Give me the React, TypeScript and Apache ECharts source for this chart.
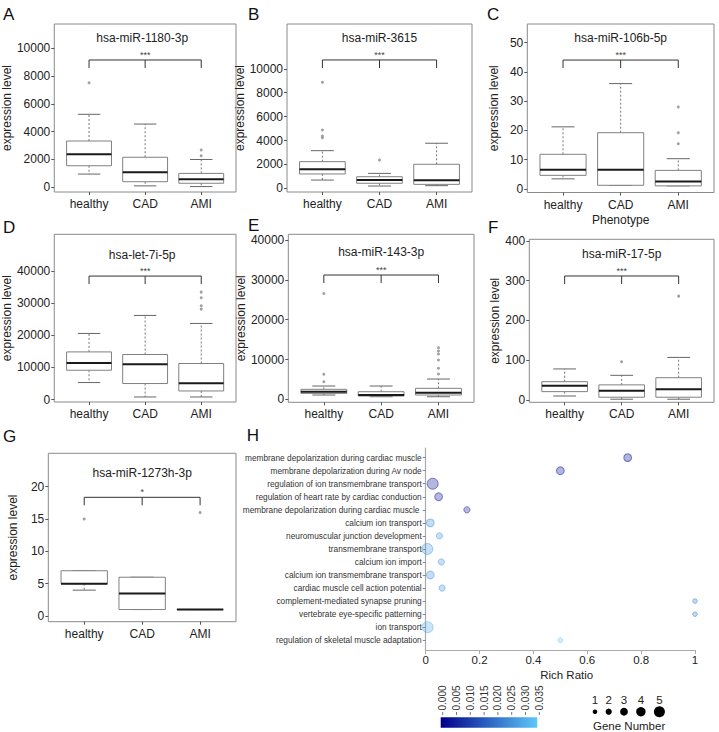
import React, { useEffect, useRef } from 'react';
import * as echarts from 'echarts';

const FONT = '"Liberation Sans", Arial, Helvetica, sans-serif';

const CATEGORIES = ['healthy', 'CAD', 'AMI'];
const TITLES = ['hsa-miR-1180-3p', 'hsa-miR-3615', 'hsa-miR-106b-5p', 'hsa-let-7i-5p', 'hsa-miR-143-3p', 'hsa-miR-17-5p', 'hsa-miR-1273h-3p'];
const LETTERS = ['A', 'B', 'C', 'D', 'E', 'F', 'G'];

// [min, Q1, median, Q3, max] for healthy, CAD, AMI
const BOX_A = [[950, 1550, 2370, 3330, 5250], [100, 400, 1080, 2160, 4550], [50, 290, 575, 1000, 2000]];
const OUT_A = [[0, 7525], [2, 2270], [2, 2680]];
const BOX_B = [[690, 1200, 1590, 2230, 3150], [190, 420, 700, 970, 1250], [220, 330, 670, 2010, 3770]];
const OUT_B = [[0, 4230], [0, 4380], [0, 4880], [0, 8870], [1, 2370]];
const BOX_C = [[3.4, 4.6, 6.5, 11.8, 21.2], [1.2, 1.2, 6.5, 19.2, 36], [1.0, 1.0, 2.5, 6.3, 10.3]];
const OUT_C = [[2, 15.4], [2, 19.2], [2, 28]];
const BOX_D = [[5290, 9110, 11380, 14800, 20530], [810, 4980, 10980, 14000, 26130], [810, 2680, 5070, 11200, 23640]];
const OUT_D = [[2, 28090], [2, 29120], [2, 31600], [2, 33370]];
const BOX_E = [[1080, 1500, 1910, 2510, 3340], [650, 830, 1080, 1910, 3340], [650, 1080, 1670, 2760, 5100]];
const OUT_E = [[0, 4400], [0, 6300], [0, 26600], [2, 6360], [2, 7790], [2, 9870], [2, 11380], [2, 12130], [2, 12960]];
const BOX_F = [[10, 21, 36, 46, 78], [2, 7, 23, 38, 62], [2, 7, 27, 56, 107]];
const OUT_F = [[1, 96], [2, 261]];
const BOX_G = [[4, 5, 5, 7, 7], [1, 1, 3.5, 6, 6], [1, 1, 1, 1, 1]];
const OUT_G = [[0, 15], [2, 16]];

const TICKS_A = [0, 2000, 4000, 6000, 8000, 10000];
const TICKS_B = [0, 2000, 4000, 6000, 8000, 10000];
const TICKS_C = [0, 10, 20, 30, 40, 50];
const TICKS_D = [0, 10000, 20000, 30000, 40000];
const TICKS_E = [0, 10000, 20000, 30000, 40000];
const TICKS_F = [0, 100, 200, 300, 400];
const TICKS_G = [0, 5, 10, 15, 20];

const Y_RANGES = [[-340, 11750], [-310, 13750], [-1.27, 56.4], [-750, 51320], [-750, 41460], [-5.8, 403.8], [-0.88, 25.17]];
const SIG_Y = [9160, 10740, 44.06, 38350, 31230, 311.6, 18.36];
const SIG_LABELS = ['***', '***', '***', '***', '***', '***', '*'];

// Panel H
const GO_TERMS = [
  'membrane depolarization during cardiac muscle',
  'membrane depolarization during Av node',
  'regulation of ion transmembrane transport',
  'regulation of heart rate by cardiac conduction',
  'membrane depolarization during cardiac muscle ',
  'calcium ion transport',
  'neuromuscular junction development',
  'transmembrane transport',
  'calcium ion import',
  'calcium ion transmembrane transport',
  'cardiac muscle cell action potential',
  'complement-mediated synapse pruning',
  'vertebrate eye-specific patterning',
  'ion transport',
  'regulation of skeletal muscle adaptation',
];
const RICH_RATIO = [0.75, 0.5, 0.026, 0.048, 0.153, 0.017, 0.051, 0.006, 0.058, 0.017, 0.061, 1, 1, 0.007, 0.5];
const GENE_NUMBER = [3, 3, 5, 3, 2, 3, 2, 5, 2, 3, 2, 1, 1, 5, 1];
const P_VALUE = [0.002, 0.002, 0.003, 0.003, 0.004, 0.025, 0.026, 0.027, 0.026, 0.025, 0.026, 0.022, 0.022, 0.031, 0.035];
const RICH_TICKS = [0, 0.2, 0.4, 0.6, 0.8, 1];
const PVALUE_TICKS = [0, 0.005, 0.01, 0.015, 0.02, 0.025, 0.03, 0.035];
const GENE_LEGEND = [1, 2, 3, 4, 5];

const P_MAX = 0.035;
const C0 = [0, 0, 139];
const C1 = [92, 200, 250];
function pColor(p: number, a: number) {
  const t = Math.max(0, Math.min(1, p / P_MAX));
  const c = C0.map((v, i) => Math.round(v + (C1[i] - v) * t));
  return `rgba(${c[0]},${c[1]},${c[2]},${a})`;
}
const geneSize = (n: number) => 3 + 1.6 * n;

const LAYOUT = [
  { left: 48.3, top: 24, width: 187.7, height: 168, nameGap: 36, titleDy: 14, lx: 3, ly: 14 },
  { left: 287, top: 24, width: 185, height: 168, nameGap: 38, titleDy: 14, lx: 248, ly: 14 },
  { left: 527.3, top: 24, width: 186.7, height: 168.5, nameGap: 27, titleDy: 14, lx: 487, ly: 14 },
  { left: 48.3, top: 234.3, width: 187.7, height: 167.7, nameGap: 37, titleDy: 21, lx: 3, ly: 227.5 },
  { left: 288.3, top: 234.3, width: 185.7, height: 168, nameGap: 37, titleDy: 18, lx: 248, ly: 225 },
  { left: 529.3, top: 239.3, width: 184.7, height: 163, nameGap: 25, titleDy: 15, lx: 488, ly: 227.5 },
  { left: 48.3, top: 453.3, width: 187.7, height: 168.4, nameGap: 29, titleDy: 20, lx: 3, ly: 436.5 },
];
const H_GRID = { left: 425.7, top: 448, width: 269.3, height: 202 };

const PANELS = [
  { box: BOX_A, out: OUT_A, ticks: TICKS_A },
  { box: BOX_B, out: OUT_B, ticks: TICKS_B },
  { box: BOX_C, out: OUT_C, ticks: TICKS_C },
  { box: BOX_D, out: OUT_D, ticks: TICKS_D },
  { box: BOX_E, out: OUT_E, ticks: TICKS_E },
  { box: BOX_F, out: OUT_F, ticks: TICKS_F },
  { box: BOX_G, out: OUT_G, ticks: TICKS_G },
];

function buildOption() {
  const grid: any[] = [];
  const xAxis: any[] = [];
  const yAxis: any[] = [];
  const series: any[] = [];
  const graphic: any[] = [];

  PANELS.forEach((p, i) => {
    const L = LAYOUT[i];
    grid.push({ left: L.left, top: L.top, width: L.width, height: L.height, show: true, borderColor: '#8a8a8a', borderWidth: 1, backgroundColor: 'transparent' });
    xAxis.push({
      gridIndex: i, type: 'value', min: 0.38, max: 3.62,
      axisLine: { show: false, onZero: false }, splitLine: { show: false },
      axisTick: { show: true, customValues: [1, 2, 3], length: 3, lineStyle: { color: '#555' } },
      axisLabel: { customValues: [1, 2, 3], formatter: (v: number) => CATEGORIES[Math.round(v) - 1], fontSize: 12, color: '#222', margin: 6, fontFamily: FONT },
      name: i === 2 ? 'Phenotype' : '', nameLocation: 'middle', nameGap: 21,
      nameTextStyle: { fontSize: 12, color: '#222', fontFamily: FONT },
    });
    yAxis.push({
      gridIndex: i, type: 'value', min: Y_RANGES[i][0], max: Y_RANGES[i][1],
      axisLine: { show: false, onZero: false }, splitLine: { show: false },
      axisTick: { show: true, customValues: p.ticks, length: 3, lineStyle: { color: '#555' } },
      axisLabel: { customValues: p.ticks, formatter: (v: number) => String(Math.round(v)), fontSize: 12, color: '#222', margin: 4, fontFamily: FONT },
      name: 'expression level', nameLocation: 'middle', nameGap: L.nameGap,
      nameTextStyle: { fontSize: 12, color: '#222', fontFamily: FONT },
    });
    series.push({
      type: 'custom', xAxisIndex: i, yAxisIndex: i,
      data: p.box.map((b, k) => [k + 1, ...b]),
      encode: { x: 0, y: [1, 2, 3, 4, 5] },
      renderItem: (params: any, api: any) => {
        const x = api.value(0);
        const lo = api.coord([x, api.value(1)]);
        const q1 = api.coord([x, api.value(2)]);
        const md = api.coord([x, api.value(3)]);
        const q3 = api.coord([x, api.value(4)]);
        const hi = api.coord([x, api.value(5)]);
        const w = api.size([0.8, 0])[0];
        const cx = lo[0];
        const dash = { stroke: '#777', lineWidth: 1, lineDash: [2, 2] };
        const solid = { stroke: '#666', lineWidth: 1 };
        return {
          type: 'group',
          children: [
            { type: 'line', shape: { x1: cx, y1: q3[1], x2: cx, y2: hi[1] }, style: dash },
            { type: 'line', shape: { x1: cx, y1: q1[1], x2: cx, y2: lo[1] }, style: dash },
            { type: 'line', shape: { x1: cx - w / 4, y1: hi[1], x2: cx + w / 4, y2: hi[1] }, style: solid },
            { type: 'line', shape: { x1: cx - w / 4, y1: lo[1], x2: cx + w / 4, y2: lo[1] }, style: solid },
            { type: 'rect', shape: { x: cx - w / 2, y: q3[1], width: w, height: q1[1] - q3[1] }, style: { fill: '#fff', stroke: '#808080', lineWidth: 1 } },
            { type: 'line', shape: { x1: cx - w / 2, y1: md[1], x2: cx + w / 2, y2: md[1] }, style: { stroke: '#1a1a1a', lineWidth: 2 } },
          ],
        };
      },
    });
    series.push({
      type: 'scatter', xAxisIndex: i, yAxisIndex: i, symbol: 'circle', symbolSize: 3,
      itemStyle: { color: '#8a8a8a' }, z: 3,
      data: p.out.map(([c, v]) => [c + 1, v]),
    });
    const sigLabel = SIG_LABELS[i];
    series.push({
      type: 'custom', xAxisIndex: i, yAxisIndex: i,
      data: [[2, SIG_Y[i]]],
      renderItem: (params: any, api: any) => {
        const y = api.value(1);
        const a = api.coord([1, y]);
        const b = api.coord([2, y]);
        const c = api.coord([3, y]);
        const leg = 8;
        return {
          type: 'group',
          children: [
            { type: 'polyline', shape: { points: [[a[0], a[1] + leg], [a[0], a[1]], [c[0], c[1]], [c[0], c[1] + leg]] }, style: { stroke: '#333', fill: null, lineWidth: 1 } },
            { type: 'line', shape: { x1: b[0], y1: b[1], x2: b[0], y2: b[1] + leg }, style: { stroke: '#333', lineWidth: 1 } },
            { type: 'text', x: b[0], y: b[1] - 5, style: { text: sigLabel, align: 'center', verticalAlign: 'middle', fontSize: 9, fill: '#444', fontFamily: FONT } },
          ],
        };
      },
    });
    graphic.push({ type: 'text', x: L.left + L.width / 2, y: L.top + L.titleDy, style: { text: TITLES[i], align: 'center', verticalAlign: 'middle', fontSize: 12, fill: '#222', fontFamily: FONT } });
    graphic.push({ type: 'text', x: L.lx, y: L.ly, style: { text: LETTERS[i], align: 'left', verticalAlign: 'middle', fontSize: 17, fill: '#111', fontFamily: FONT } });
  });

  // Panel H
  const hi = PANELS.length;
  grid.push({ ...H_GRID, show: false });
  xAxis.push({
    gridIndex: hi, type: 'value', min: 0, max: 1, interval: 0.2, position: 'bottom',
    axisLine: { show: true, onZero: false, lineStyle: { color: '#aaa', width: 1.2 } },
    axisTick: { show: true, length: 4, lineStyle: { color: '#aaa' } },
    splitLine: { show: false },
    axisLabel: { fontSize: 11.5, color: '#222', margin: 4, fontFamily: FONT, formatter: (v: number) => String(Number(v.toFixed(1))) },
  });
  const idx = GO_TERMS.map((_, k) => k);
  yAxis.push({
    gridIndex: hi, type: 'value', inverse: true, min: -0.74, max: 14.75, position: 'left',
    axisLine: { show: true, onZero: false, lineStyle: { color: '#aaa', width: 1.2 } },
    axisTick: { show: true, customValues: idx, length: 3, lineStyle: { color: '#888' } },
    splitLine: { show: false },
    axisLabel: { customValues: idx, formatter: (v: number) => GO_TERMS[Math.round(v)], fontSize: 8.3, color: '#333', margin: 4, fontFamily: FONT },
  });
  series.push({
    type: 'scatter', xAxisIndex: hi, yAxisIndex: hi, symbol: 'circle', clip: false,
    data: GO_TERMS.map((_, k) => ({
      value: [RICH_RATIO[k], k],
      symbolSize: geneSize(GENE_NUMBER[k]),
      itemStyle: { color: pColor(P_VALUE[k], 0.38), borderColor: pColor(P_VALUE[k], 0.6), borderWidth: 1 },
    })),
  });
  graphic.push({ type: 'text', x: 566.7, y: 675, style: { text: 'Rich Ratio', align: 'center', verticalAlign: 'middle', fontSize: 11.5, fill: '#222', fontFamily: FONT } });
  graphic.push({ type: 'text', x: 246.7, y: 435.5, style: { text: 'H', align: 'left', verticalAlign: 'middle', fontSize: 17, fill: '#111', fontFamily: FONT } });

  // colour bar
  const barX = 440.7, barY = 717.3, barW = 96.6, barH = 10.4;
  graphic.push({
    type: 'rect', shape: { x: barX, y: barY, width: barW, height: barH },
    style: { fill: new echarts.graphic.LinearGradient(0, 0, 1, 0, [
      { offset: 0, color: pColor(0, 1) }, { offset: 1, color: pColor(P_MAX, 1) },
    ]) },
  });
  PVALUE_TICKS.forEach((v) => {
    const x = barX + 2 + (v / P_MAX) * barW;
    graphic.push({ type: 'line', shape: { x1: x, y1: 712, x2: x, y2: 715 }, style: { stroke: '#555', lineWidth: 0.8 } });
    graphic.push({ type: 'text', x: x, y: 710.5, rotation: Math.PI / 2, style: { text: v.toFixed(3), align: 'left', verticalAlign: 'middle', fontSize: 10, fill: '#333', fontFamily: FONT } });
  });

  // gene number legend
  let gx = 595;
  GENE_LEGEND.forEach((n, k) => {
    if (k > 0) gx += geneSize(GENE_LEGEND[k - 1]) / 2 + 8.3 + geneSize(n) / 2;
    graphic.push({ type: 'text', x: gx, y: 700, style: { text: String(n), align: 'center', verticalAlign: 'middle', fontSize: 11.5, fill: '#222', fontFamily: FONT } });
    graphic.push({ type: 'circle', shape: { cx: gx, cy: 711.7, r: geneSize(n) / 2 }, style: { fill: '#000' } });
  });
  graphic.push({ type: 'text', x: 593, y: 725.5, style: { text: 'Gene Number', align: 'left', verticalAlign: 'middle', fontSize: 11.5, fill: '#222', fontFamily: FONT } });

  return {
    animation: false,
    backgroundColor: '#fff',
    textStyle: { fontFamily: FONT },
    grid, xAxis, yAxis, series, graphic,
  };
}

export default function App() {
  const ref = useRef<HTMLDivElement>(null);
  useEffect(() => {
    if (!ref.current) return;
    const chart = echarts.init(ref.current, undefined, { renderer: 'svg' });
    chart.setOption(buildOption() as any);
    return () => chart.dispose();
  }, []);
  return <div ref={ref} style={{ position: 'absolute', left: 0, top: 0, width: 719, height: 732 }} />;
}
